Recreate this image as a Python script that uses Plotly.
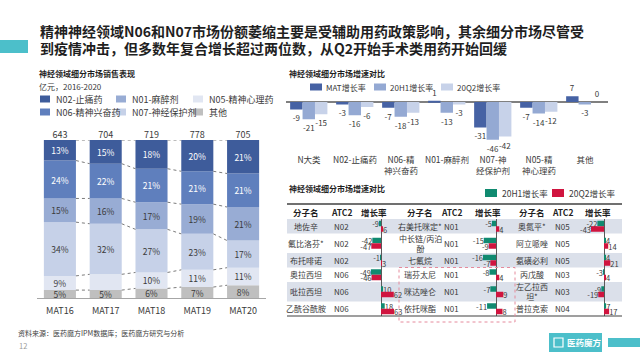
import plotly.graph_objects as go

W, H = 640, 360
FONT = "Noto Sans CJK SC, Noto Sans, sans-serif"
DARK = "#1f1f1f"
TXT = "#3a3a3a"


def X(px):
    return px / W


def Y(py):
    return 1 - py / H


# ---------------- data ----------------
title_lines = [
    "精神神经领域N06和N07市场份额萎缩主要是受辅助用药政策影响，其余细分市场尽管受",
    "到疫情冲击，但多数年复合增长超过两位数，从Q2开始手术类用药开始回缓",
]

# left: stacked share chart
years = ["MAT16", "MAT17", "MAT18", "MAT19", "MAT20"]
totals = [643, 704, 719, 778, 705]
share_other = [5, 5, 6, 7, 8]
share_n05 = [9, 10, 10, 11, 11]
share_n07 = [34, 32, 27, 23, 17]
share_n01 = [15, 16, 17, 19, 21]
share_n06 = [24, 22, 21, 21, 21]
share_n02 = [13, 15, 18, 20, 21]
n05_label_shown = [True, False, True, True, True]

# right top: growth comparison
growth_cats = ["N大类", "N02-止痛药", "N06-精<br>神兴奋药", "N01-麻醉剂",
               "N07-神<br>经保护剂", "N05-精<br>神心理药", "其他"]
mat_growth = [-9, -3, -7, 1, -31, -7, 7]
h1_growth = [-21, -16, -18, -13, -46, -14, -3]
q2_growth = [-15, -6, -13, -3, -42, -12, 0]

# right bottom: molecule table
g1_names = ["地佐辛", "氟比洛芬*", "布托啡诺", "奥拉西坦", "吡拉西坦", "乙酰谷酰胺"]
g1_atc = ["N02", "N02", "N02", "N06", "N06", "N06"]
g1_h1 = [-9, -42, -1, -49, 10, 18]
g1_q2 = [6, -47, 3, -46, 62, 63]

g2_names = ["右美托咪定*", "中长链/丙泊<br>酚", "七氟烷", "瑞芬太尼", "咪达唑仑", "依托咪酯"]
g2_atc = ["N01", "N01", "N01", "N01", "N01", "N01"]
g2_h1 = [-5, -15, -16, -8, -7, -11]
g2_q2 = [4, -9, -7, 4, 9, 8]

g3_names = ["奥氮平*", "阿立哌唑", "氨磺必利", "丙戊酸", "左乙拉西<br>坦*", "普拉克索"]
g3_atc = ["N05", "N05", "N05", "N03", "N03", "N04"]
g3_h1 = [-22, 4, 4, -3, -9, 7]
g3_q2 = [-43, 14, 21, 4, -19, 17]

# ---------------- styles ----------------
C_N02, C_N06, C_N01, C_N07, C_N05, C_OTH = "#3e5c9b", "#5f7fbd", "#98acd4", "#c6d1e8", "#e1e6f2", "#bfbfbf"
C_MAT, C_H1, C_Q2 = "#4662a4", "#94a9d3", "#c7d2e9"
C_GREEN, C_RED = "#108a70", "#d0143f"
C_TEAL = "#4cbfca"

fig = go.Figure()
shapes = []
ann = []


def text(x, y, s, size=9, color=TXT, xanchor="left", bold=False):
    ann.append(dict(x=X(x), y=Y(y), xref="paper", yref="paper", text=f"<b>{s}</b>" if bold else s,
                    showarrow=False, xanchor=xanchor, yanchor="middle",
                    font=dict(size=size, color=color, family=FONT)))


def rect(x0, y0, x1, y1, color, layer="above"):
    shapes.append(dict(type="rect", xref="paper", yref="paper", x0=X(x0), x1=X(x1), y0=Y(y0), y1=Y(y1),
                       fillcolor=color, line=dict(width=0), layer=layer))


# ---------------- title ----------------
rect(0, 40, 28, 53, C_TEAL)
text(38, 31, title_lines[0], size=14, color=DARK, bold=True)
text(38, 48, title_lines[1], size=14, color=DARK, bold=True)

# ---------------- left chart ----------------
text(37, 74, "神经领域细分市场销售表现", size=8, color=DARK, bold=True)
text(37, 86, "亿元，2016-2020", size=8, color=TXT)

stack = [
    ("其他", share_other, C_OTH, TXT),
    ("N05-精神心理药", share_n05, C_N05, TXT),
    ("N07-神经保护剂", share_n07, C_N07, TXT),
    ("N01-麻醉剂", share_n01, C_N01, TXT),
    ("N06-精神兴奋药", share_n06, C_N06, "white"),
    ("N02-止痛药", share_n02, C_N02, "white"),
]
xs = list(range(len(years)))
bar_sums = [sum(s[1][i] for s in stack) for i in xs]
base = [0.0] * len(years)
boundaries = []
for name, vals, col, tcol in stack:
    norm = [v * 100.0 / bar_sums[i] for i, v in enumerate(vals)]
    labels = [f"{v}%" for v in vals]
    if name == "N05-精神心理药":
        labels = [l if show else "" for l, show in zip(labels, n05_label_shown)]
    fig.add_trace(go.Bar(x=xs, y=norm, base=list(base), width=0.7, marker=dict(color=col, line=dict(width=0)),
                         text=labels, textposition="inside", insidetextanchor="middle", textangle=0,
                         constraintext="none", textfont=dict(size=8.5, color=tcol, family=FONT),
                         xaxis="x", yaxis="y", showlegend=False, hoverinfo="skip"))
    base = [b + n for b, n in zip(base, norm)]
    boundaries.append(list(base))

cx, cy = [], []
for bnd in boundaries:
    for i in range(len(years) - 1):
        cx += [i + 0.35, i + 0.65, None]
        cy += [bnd[i], bnd[i + 1], None]
fig.add_trace(go.Scatter(x=cx, y=cy, mode="lines", line=dict(color="#595959", width=0.8, dash="dot"),
                         xaxis="x", yaxis="y", showlegend=False, hoverinfo="skip"))
fig.add_trace(go.Scatter(x=xs, y=[100] * len(xs), mode="text", text=[str(t) for t in totals],
                         textposition="top center", textfont=dict(size=9, color=TXT, family=FONT),
                         cliponaxis=False, xaxis="x", yaxis="y", showlegend=False, hoverinfo="skip"))

legend_left = [("N02-止痛药", C_N02), ("N01-麻醉剂", C_N01), ("N05-精神心理药", C_N05),
               ("N06-精神兴奋药", C_N06), ("N07-神经保护剂", C_N07), ("其他", C_OTH)]
col_x = [40, 116, 193]
row_y = [99, 112]
for k, (name, col) in enumerate(legend_left):
    x0 = col_x[k % 3]
    y0 = row_y[k // 3]
    rect(x0, y0 - 3.5, x0 + 10, y0 + 3.5, col)
    text(x0 + 14, y0, name, size=9, color=TXT)

# ---------------- right top chart ----------------
text(287, 74, "神经领域细分市场增速对比", size=8, color=DARK, bold=True)
gx = list(range(len(growth_cats)))
for name, vals, col, off, lx in [("MAT增长率", mat_growth, C_MAT, -0.41, 310),
                                  ("20H1增长率", h1_growth, C_H1, -0.14, 374),
                                  ("20Q2增长率", q2_growth, C_Q2, 0.13, 441)]:
    fig.add_trace(go.Bar(x=gx, y=vals, width=0.27, offset=off, marker=dict(color=col, line=dict(width=0)),
                         text=[str(v) for v in vals], textposition="outside", constraintext="none",
                         textfont=dict(size=8, color=TXT, family=FONT), cliponaxis=False,
                         xaxis="x2", yaxis="y2", showlegend=False, hoverinfo="skip"))
    rect(lx, 83.5, lx + 12, 90.5, col)
    text(lx + 14, 87, name, size=8, color=TXT)

# ---------------- right bottom table ----------------
text(287, 188, "神经领域细分市场增速对比", size=8, color=DARK, bold=True)
for name, col, lx in [("20H1增长率", C_GREEN, 485), ("20Q2增长率", C_RED, 552)]:
    rect(lx, 189, lx + 12, 197, col)
    text(lx + 15, 193, name, size=8.5, color=TXT)

groups = [(g1_names, g1_atc, g1_h1, g1_q2), (g2_names, g2_atc, g2_h1, g2_q2), (g3_names, g3_atc, g3_h1, g3_q2)]
name_cx = [306, 420, 532]
atc_cx = [341, 451, 562]
gr_cx = [374, 488, 598]
axis_px = [381, 496, 604]

TAB_L, TAB_R, HEAD_TOP, ROW_TOP = 287, 622, 204, 219
row_h = []
for i in range(6):
    tall = any("<br>" in g[0][i] for g in groups)
    row_h.append(19.5 if tall else 14.5)
row_top = []
acc = ROW_TOP
for h in row_h:
    row_top.append(acc)
    acc += h
TAB_B = acc
row_c = [t + h / 2 for t, h in zip(row_top, row_h)]

for i in range(6):
    if i % 2 == 0:
        rect(TAB_L, row_top[i], TAB_R, row_top[i] + row_h[i], "#dbe0ea", layer="below")
shapes.append(dict(type="line", xref="paper", yref="paper", x0=X(TAB_L), x1=X(TAB_R), y0=Y(HEAD_TOP), y1=Y(HEAD_TOP),
                   line=dict(color="#404040", width=1.5)))
shapes.append(dict(type="line", xref="paper", yref="paper", x0=X(TAB_L), x1=X(TAB_R), y0=Y(TAB_B), y1=Y(TAB_B),
                   line=dict(color="#404040", width=1.2)))
shapes.append(dict(type="rect", xref="paper", yref="paper", x0=X(399), x1=X(515), y0=Y(row_top[3]), y1=Y(TAB_B + 6),
                   line=dict(color="#e58a9c", width=1, dash="dot"), fillcolor="rgba(0,0,0,0)"))

head_y = (HEAD_TOP + ROW_TOP) / 2
for gi, (names, atcs, h1, q2) in enumerate(groups):
    text(name_cx[gi], head_y, "分子名", size=8.5, color=DARK, xanchor="center", bold=True)
    text(atc_cx[gi], head_y, "ATC2", size=8.5, color=DARK, xanchor="center", bold=True)
    text(gr_cx[gi], head_y, "增长率", size=8.5, color=DARK, xanchor="center", bold=True)
    for i in range(6):
        text(name_cx[gi], row_c[i], names[i], size=8, color=TXT, xanchor="center")
        text(atc_cx[gi], row_c[i], atcs[i], size=8, color=TXT, xanchor="center")
    ax = str(gi + 3)
    for vals, col, off in [(h1, C_GREEN, -5.5), (q2, C_RED, 0.0)]:
        fig.add_trace(go.Bar(x=vals, y=row_c, orientation="h", width=5.5, offset=off,
                             marker=dict(color=col, line=dict(width=0)),
                             text=[str(v) for v in vals], textposition="outside", constraintext="none",
                             textfont=dict(size=7.5, color=TXT, family=FONT), cliponaxis=False,
                             xaxis="x" + ax, yaxis="y" + ax, showlegend=False, hoverinfo="skip"))

# ---------------- footer ----------------
text(16, 333, "资料来源：医药魔方IPM数据库；医药魔方研究与分析", size=7, color="#404040")
text(17, 345, "12", size=7.5, color="#9a9a9a")
shapes.append(dict(type="rect", xref="paper", yref="paper", x0=X(549), x1=X(602), y0=Y(333), y1=Y(352),
                   fillcolor=C_TEAL, line=dict(width=0)))
shapes.append(dict(type="rect", xref="paper", yref="paper", x0=X(554), x1=X(563), y0=Y(338), y1=Y(347),
                   fillcolor="rgba(0,0,0,0)", line=dict(color="white", width=1.2)))
text(584, 342, "医药魔方", size=8.5, color="white", xanchor="center", bold=True)
rect(608, 338, 640, 347, C_TEAL)

# ---------------- layout ----------------
hidden = dict(showgrid=False, zeroline=False, showticklabels=False, ticks="", showline=False, fixedrange=True)
layout = dict(
    width=W, height=H, margin=dict(l=0, r=0, t=0, b=0), autosize=False,
    paper_bgcolor="white", plot_bgcolor="rgba(0,0,0,0)", barmode="overlay",
    font=dict(family=FONT, color=TXT), showlegend=False,
    shapes=shapes, annotations=ann,
    xaxis=dict(domain=[X(37), X(266)], range=[-0.5, 4.5], tickvals=xs, ticktext=years, showline=True,
               linecolor="#a6a6a6", linewidth=1, ticks="outside", ticklen=4, tickcolor="rgba(0,0,0,0)",
               showgrid=False, zeroline=False, tickfont=dict(size=9, color=TXT), anchor="y", fixedrange=True),
    yaxis=dict(domain=[Y(298), Y(140)], range=[0, 100], anchor="x", **hidden),
    xaxis2=dict(domain=[X(286), X(608)], range=[-0.5, 6.5], tickvals=gx, ticktext=growth_cats,
                showgrid=False, zeroline=False, showline=False, ticks="outside", ticklen=4,
                tickcolor="rgba(0,0,0,0)", tickfont=dict(size=8.5, color=TXT),
                anchor="y2", fixedrange=True),
    yaxis2=dict(domain=[Y(148), Y(93.8)], range=[-56, 10], anchor="x2", showgrid=False, zeroline=True,
                zerolinecolor="#808080", zerolinewidth=1.5, showticklabels=False, ticks="", showline=False,
                fixedrange=True),
)
for gi, (names, atcs, h1, q2) in enumerate(groups):
    ax = str(gi + 3)
    m = max(abs(v) for v in h1 + q2)
    layout["xaxis" + ax] = dict(domain=[X(axis_px[gi] - 13), X(axis_px[gi] + 13)], range=[-m, m],
                                anchor="y" + ax, showgrid=False, zeroline=True, zerolinecolor="#595959",
                                zerolinewidth=1, showticklabels=False, ticks="", showline=False, fixedrange=True)
    layout["yaxis" + ax] = dict(domain=[Y(TAB_B), Y(ROW_TOP)], range=[TAB_B, ROW_TOP], anchor="x" + ax, **hidden)

fig.update_layout(**layout)
fig.write_html("out.html", config={"displayModeBar": False},
               post_script="document.body.style.margin='0';document.body.style.overflow='hidden';")
